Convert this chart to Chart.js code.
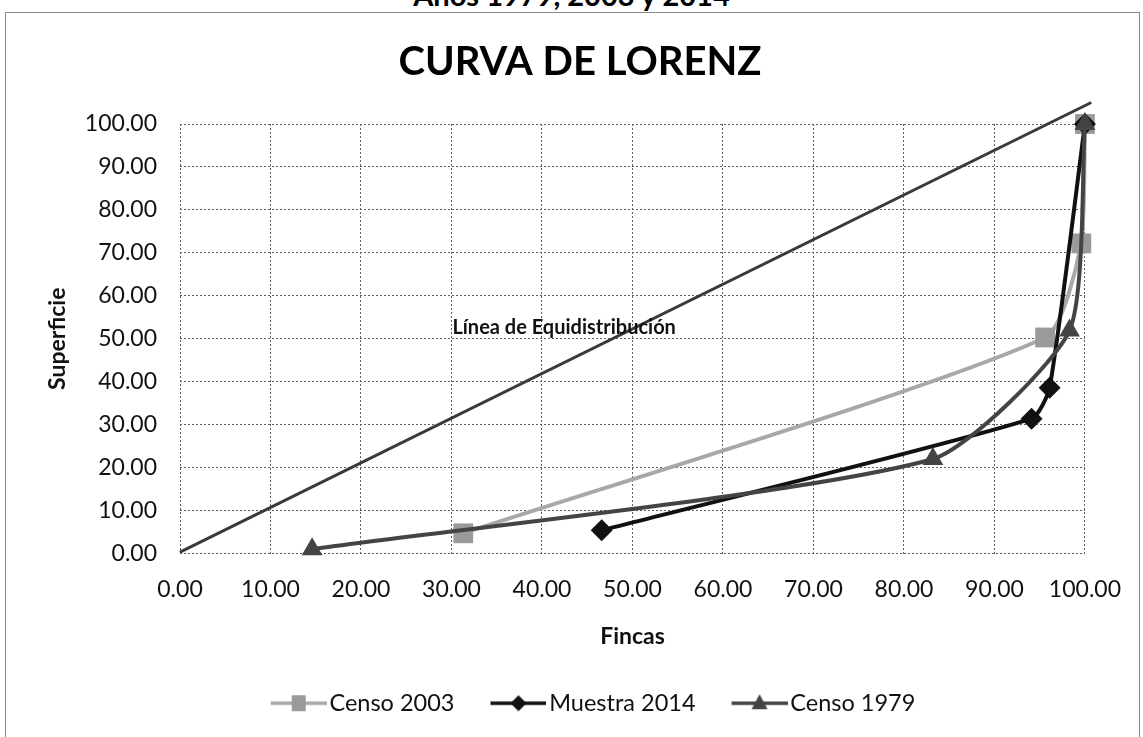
<!DOCTYPE html>
<html>
<head>
<meta charset="utf-8">
<title>Curva de Lorenz</title>
<script src="https://cdn.jsdelivr.net/npm/chart.js@4.4.1/dist/chart.umd.min.js"></script>
<style>
    body { margin: 0; background: #fff; }
    #wrap { position: relative; width: 1143px; height: 737px; overflow: hidden; }
    #subtitulo { position: absolute; left: 0; top: -20px; width: 1143px; text-align: center;
        font: bold 29px Lato, sans-serif; line-height: 29px; color: #000; }
    #marco { position: absolute; left: 5px; top: 12px; width: 1133px; height: 800px; border: 1.5px solid #888; }
    #myLorenzChart { position: absolute; left: 0; top: 0; }
</style>
</head>
<body>
<div id="wrap">
    <div id="subtitulo">Años 1979, 2003 y 2014</div>
    <div id="marco"></div>
    <canvas id="myLorenzChart" width="1143" height="737"></canvas>
</div>
<script>
// Curva de Lorenz - fincas vs superficie (acumulado %)

const fincas2003 = [31.3, 95.6, 99.6, 100];
const superficie2003 = [4.7, 50.3, 72.2, 100];

const fincas2014 = [46.6, 94.1, 96.1, 100];
const superficie2014 = [5.4, 31.4, 38.6, 100];

const fincas1979 = [14.6, 83.2, 98.3, 100];
const superficie1979 = [1.0, 22.0, 51.9, 100];

// linea de equidistribucion (se sale un poco del area, como en el original)
const equiX = [0, 100.7];
const equiY = [0.3, 105];

const ticksEje = [0, 10, 20, 30, 40, 50, 60, 70, 80, 90, 100];
const series = ['Censo 2003', 'Muestra 2014', 'Censo 1979'];
const textoEqui = 'Línea de Equidistribución';
const posTextoEqui = [30.1, 52.7];

function toPoints(xs, ys) {
    return xs.map((x, i) => ({ x: x, y: ys[i] }));
}

// icono de leyenda: linea con el marcador en medio
function legendIcon(lineColor, markColor, style) {
    const c = document.createElement('canvas');
    c.width = 91;
    c.height = 26;
    const g = c.getContext('2d');
    g.strokeStyle = lineColor;
    g.lineWidth = 3.5;
    g.beginPath();
    g.moveTo(35, 13);
    g.lineTo(91, 13);
    g.stroke();
    g.fillStyle = markColor;
    g.beginPath();
    if (style == 'rect') {
        g.rect(56, 5, 14, 16);
    } else if (style == 'rectRot') {
        g.moveTo(63, 5); g.lineTo(71, 13); g.lineTo(63, 21); g.lineTo(55, 13);
    } else {
        g.moveTo(63, 4); g.lineTo(71, 19); g.lineTo(55, 19);
    }
    g.closePath();
    g.fill();
    return c;
}

const equiLabel = {
    id: 'equiLabel',
    afterDatasetsDraw(chart) {
        const c = chart.ctx;
        const x = chart.scales.x.getPixelForValue(posTextoEqui[0]);
        const y = chart.scales.y.getPixelForValue(posTextoEqui[1]);
        c.save();
        c.font = 'bold 20px Lato';
        c.fillStyle = '#111';
        c.textBaseline = 'middle';
        c.fillText(textoEqui, x, y);
        c.restore();
    }
};

document.addEventListener('DOMContentLoaded', () => {
    var ctx = document.getElementById('myLorenzChart').getContext('2d');

    const icons = [
        legendIcon('#a8a8a8', '#9a9a9a', 'rect'),
        legendIcon('#111', '#111', 'rectRot'),
        legendIcon('#444', '#444', 'triangle')
    ];

    const lineaBase = {
        showLine: true,
        tension: 0.2,
        borderWidth: 4,
        pointBorderWidth: 0,
        clip: false
    };

    var myLorenzChart = new Chart(ctx, {
        type: 'scatter',
        data: {
            datasets: [
                Object.assign({}, lineaBase, {
                    label: series[0],
                    data: toPoints(fincas2003, superficie2003),
                    borderColor: '#a8a8a8',
                    backgroundColor: '#9a9a9a',
                    pointStyle: 'rect',
                    pointRadius: 14,
                    order: 3
                }),
                Object.assign({}, lineaBase, {
                    label: series[1],
                    data: toPoints(fincas2014, superficie2014),
                    borderColor: '#111',
                    backgroundColor: '#111',
                    pointStyle: 'rectRot',
                    pointRadius: 11,
                    order: 2
                }),
                Object.assign({}, lineaBase, {
                    label: series[2],
                    data: toPoints(fincas1979, superficie1979),
                    borderColor: '#444',
                    backgroundColor: '#444',
                    pointStyle: 'triangle',
                    pointRadius: 12,
                    order: 1
                }),
                {
                    label: textoEqui,
                    data: toPoints(equiX, equiY),
                    showLine: true,
                    tension: 0,
                    borderColor: '#3a3a3a',
                    borderWidth: 3,
                    pointRadius: 0,
                    clip: false,
                    order: 4
                }
            ]
        },
        options: {
            responsive: false,
            animation: false,
            layout: {
                padding: { left: 73, right: 56, top: 26, bottom: 12 }
            },
            scales: {
                x: {
                    type: 'linear',
                    min: 0,
                    max: 100,
                    afterBuildTicks: (s) => { s.ticks = ticksEje.map(v => ({ value: v })); },
                    afterFit: (s) => { s.height = 128; },
                    grid: { color: '#5e5e5e', drawTicks: false },
                    border: { display: false, dash: [2, 2] },
                    ticks: {
                        padding: 22,
                        color: '#111',
                        font: { family: 'Lato', size: 23 },
                        callback: (v) => Number(v).toFixed(2)
                    },
                    title: {
                        display: true,
                        text: 'Fincas',
                        color: '#111',
                        font: { family: 'Lato', size: 23, weight: 'bold' },
                        padding: { top: 0, bottom: 31 }
                    }
                },
                y: {
                    min: 0,
                    max: 100,
                    afterBuildTicks: (s) => { s.ticks = ticksEje.map(v => ({ value: v })); },
                    afterFit: (s) => { s.width = 107; },
                    grid: { color: '#5e5e5e', drawTicks: false },
                    border: { display: false, dash: [2, 2] },
                    ticks: {
                        padding: 23,
                        color: '#111',
                        font: { family: 'Lato', size: 23 },
                        callback: (v) => Number(v).toFixed(2)
                    },
                    title: {
                        display: true,
                        text: 'Superficie',
                        color: '#111',
                        font: { family: 'Lato', size: 23, weight: 'bold' },
                        padding: { top: -28.8, bottom: 0 }
                    }
                }
            },
            plugins: {
                title: {
                    display: true,
                    text: 'CURVA DE LORENZ',
                    color: '#000',
                    font: { family: 'Lato', size: 40, weight: 'bold' },
                    padding: { top: 12, bottom: 38 }
                },
                legend: {
                    position: 'bottom',
                    labels: {
                        usePointStyle: true,
                        pointStyleWidth: 73,
                        padding: 10,
                        color: '#111',
                        font: { family: 'Lato', size: 23.5 },
                        filter: (item) => item.datasetIndex < 3,
                        sort: (a, b) => a.datasetIndex - b.datasetIndex,
                        generateLabels: (chart) => {
                            return Chart.defaults.plugins.legend.labels.generateLabels(chart).map(l => {
                                if (l.datasetIndex < 3) l.pointStyle = icons[l.datasetIndex];
                                return l;
                            });
                        }
                    }
                },
                tooltip: { enabled: false }
            }
        },
        plugins: [equiLabel]
    });
});
</script>
</body>
</html>
